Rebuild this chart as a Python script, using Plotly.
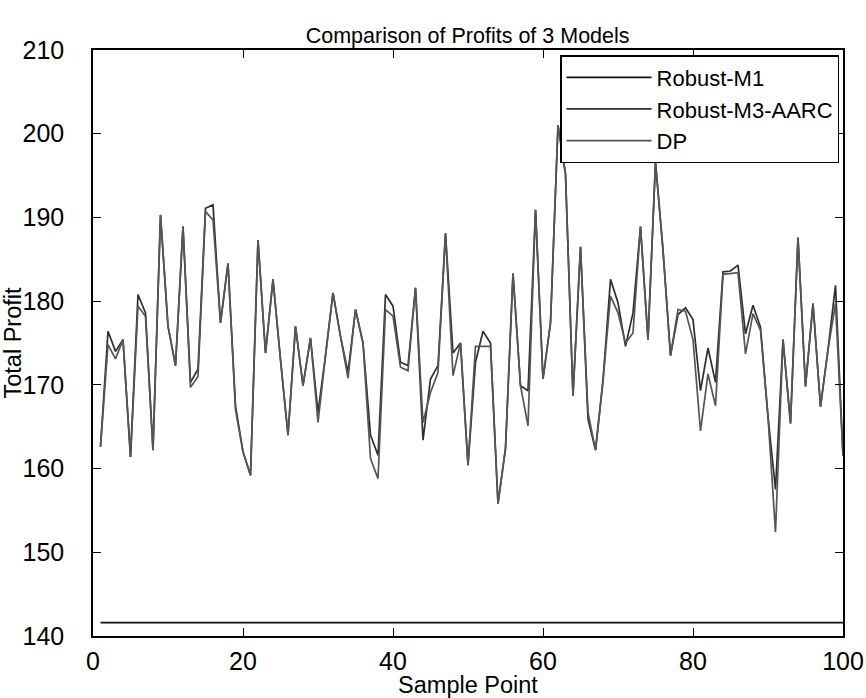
import plotly.graph_objects as go

sample_points = list(range(1, 101))

robust_m1 = [
    141.6, 141.6, 141.6, 141.6, 141.6, 141.6, 141.6, 141.6, 141.6, 141.6,
    141.6, 141.6, 141.6, 141.6, 141.6, 141.6, 141.6, 141.6, 141.6, 141.6,
    141.6, 141.6, 141.6, 141.6, 141.6, 141.6, 141.6, 141.6, 141.6, 141.6,
    141.6, 141.6, 141.6, 141.6, 141.6, 141.6, 141.6, 141.6, 141.6, 141.6,
    141.6, 141.6, 141.6, 141.6, 141.6, 141.6, 141.6, 141.6, 141.6, 141.6,
    141.6, 141.6, 141.6, 141.6, 141.6, 141.6, 141.6, 141.6, 141.6, 141.6,
    141.6, 141.6, 141.6, 141.6, 141.6, 141.6, 141.6, 141.6, 141.6, 141.6,
    141.6, 141.6, 141.6, 141.6, 141.6, 141.6, 141.6, 141.6, 141.6, 141.6,
    141.6, 141.6, 141.6, 141.6, 141.6, 141.6, 141.6, 141.6, 141.6, 141.6,
    141.6, 141.6, 141.6, 141.6, 141.6, 141.6, 141.6, 141.6, 141.6, 141.6,
]

robust_m3_aarc = [
    162.6, 176.4, 174.0, 175.4, 161.4, 180.8, 178.6, 162.2, 190.3, 177.0,
    172.3, 188.9, 170.3, 171.9, 191.1, 191.5, 177.4, 184.5, 167.5, 162.0,
    159.2, 187.3, 173.8, 182.6, 173.0, 164.0, 177.0, 169.9, 175.6, 166.7,
    173.5, 181.0, 175.8, 171.5, 179.0, 175.0, 164.0, 161.6, 180.8, 179.4,
    172.7, 172.3, 181.6, 163.4, 170.7, 172.3, 188.1, 173.8, 175.0, 160.4,
    172.7, 176.4, 175.0, 155.8, 162.4, 183.3, 169.9, 169.3, 190.9, 170.7,
    177.4, 201.0, 195.2, 168.7, 186.5, 165.9, 162.2, 170.5, 182.6, 179.8,
    174.6, 178.6, 188.9, 175.4, 196.6, 186.1, 173.5, 178.4, 179.2, 177.8,
    169.3, 174.4, 170.3, 183.5, 183.6, 184.3, 176.1, 179.5, 176.9, 166.2,
    157.5, 175.4, 165.4, 187.6, 169.8, 179.7, 167.4, 174.2, 181.9, 161.5,
]

dp = [
    162.6, 174.8, 173.1, 175.4, 161.4, 179.4, 178.2, 162.2, 190.3, 177.0,
    172.3, 188.9, 169.7, 171.0, 190.7, 189.7, 177.4, 184.5, 167.0, 162.0,
    159.2, 187.3, 173.8, 182.6, 173.0, 164.0, 177.0, 169.9, 175.6, 165.5,
    173.5, 181.0, 175.8, 170.8, 179.0, 175.0, 161.2, 158.8, 179.0, 178.2,
    172.1, 171.7, 181.6, 165.5, 169.1, 171.5, 188.1, 171.1, 175.0, 160.4,
    174.6, 174.6, 174.6, 155.8, 162.4, 183.3, 169.9, 165.1, 190.9, 170.7,
    177.4, 201.0, 195.2, 168.7, 186.5, 166.7, 162.2, 170.5, 180.6, 178.6,
    175.0, 176.2, 188.9, 175.4, 196.6, 186.1, 173.5, 179.0, 178.8, 175.4,
    164.5, 171.3, 167.5, 183.2, 183.3, 183.4, 173.7, 178.5, 176.5, 166.2,
    152.4, 175.4, 165.4, 187.6, 169.8, 179.7, 167.4, 174.2, 179.7, 161.5,
]

x_ticks = [0, 20, 40, 60, 80, 100]
y_ticks = [140, 150, 160, 170, 180, 190, 200, 210]

FONT = "Liberation Sans, Arial, Helvetica, sans-serif"

fig = go.Figure()
fig.add_trace(go.Scatter(x=sample_points, y=robust_m1, mode="lines", name="Robust-M1",
                         line=dict(color="#111111", width=1.8)))
fig.add_trace(go.Scatter(x=sample_points, y=robust_m3_aarc, mode="lines", name="Robust-M3-AARC",
                         line=dict(color="#2e2e2e", width=1.7)))
fig.add_trace(go.Scatter(x=sample_points, y=dp, mode="lines", name="DP",
                         line=dict(color="#555555", width=1.7)))

axis_common = dict(
    showline=True, linecolor="black", linewidth=1.5, mirror="ticks",
    ticks="inside", ticklen=8, tickwidth=1.3, tickcolor="black",
    showgrid=False, zeroline=False, automargin=False,
    tickfont=dict(family=FONT, size=25, color="black"),
)

fig.update_layout(
    width=866, height=698,
    margin=dict(l=93, r=23, t=50, b=62),
    paper_bgcolor="white", plot_bgcolor="white",
    font=dict(family=FONT, color="black"),
    title=dict(text="Comparison of Profits of 3 Models", x=0.54, xanchor="center",
               y=1 - 35 / 698, yanchor="middle",
               font=dict(family=FONT, size=21.5, color="black")),
    xaxis=dict(range=[0, 100], tickvals=x_ticks, ticklabelstandoff=2,
               title=dict(text="Sample Point", standoff=0,
                          font=dict(family=FONT, size=23.5, color="black")),
               **axis_common),
    yaxis=dict(range=[140, 210], tickvals=y_ticks, ticklabelstandoff=22,
               title=dict(text="Total Profit", standoff=0,
                          font=dict(family=FONT, size=23.5, color="black")),
               **axis_common),
    legend=dict(x=0.995, xanchor="right", y=0.991, yanchor="top",
                bgcolor="white", bordercolor="black", borderwidth=1.3,
                font=dict(family=FONT, size=22, color="black"),
                itemwidth=85, tracegroupgap=0),
    showlegend=True,
)

fig.write_html("out.html")
